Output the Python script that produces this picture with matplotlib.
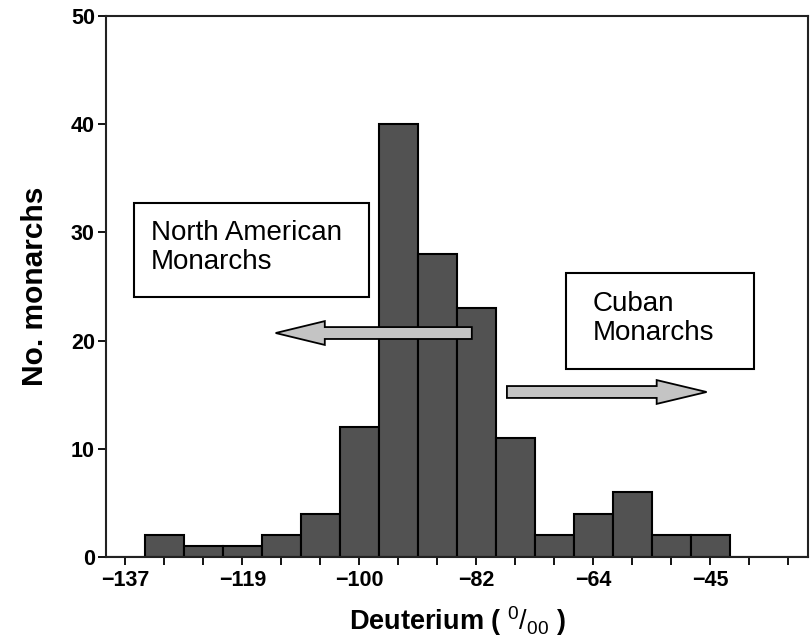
import matplotlib
matplotlib.use("Agg")
import matplotlib.pyplot as plt
from matplotlib.patches import Rectangle, FancyArrow

plt.rcParams['font.family'] = ['Liberation Sans', 'DejaVu Sans']
plt.rcParams['mathtext.fontset'] = 'custom'
plt.rcParams['mathtext.rm'] = 'Liberation Sans'
plt.rcParams['mathtext.it'] = 'Liberation Sans'
plt.rcParams['mathtext.bf'] = 'Liberation Sans:bold'
plt.rcParams['mathtext.default'] = 'rm'

# Bin positions (index of bin centre) and counts
bin_index = list(range(0, 18))
counts = [0, 2, 1, 1, 2, 4, 12, 40, 28, 23, 11, 2, 4, 6, 2, 2, 0, 0]
tick_labels = ['−137', '', '', '−119', '', '', '−100', '', '', '−82', '', '',
               '−64', '', '', '−45', '', '']
y_ticks = [0, 10, 20, 30, 40, 50]

fig = plt.figure(figsize=(8.12, 6.44), dpi=100)
ax = fig.add_axes([106/812, 1-557/644, 702/812, 541/644])

ax.bar(bin_index, counts, width=1.0, color='#525252', edgecolor='black',
       linewidth=1.5, zorder=2)

ax.set_xlim(-0.5, 17.5)
ax.set_ylim(0, 50)
ax.set_xticks(bin_index)
ax.set_xticklabels(tick_labels)
ax.set_yticks(y_ticks)
ax.tick_params(axis='both', direction='out', length=6, width=1.3, labelsize=15.5)
ax.tick_params(axis='x', pad=3)
ax.tick_params(axis='y', pad=2)
for lab in ax.get_xticklabels() + ax.get_yticklabels():
    lab.set_fontweight('bold')
for s in ax.spines.values():
    s.set_linewidth(1.5)
    s.set_color('#222222')

ax.set_ylabel('No. monarchs', fontsize=21.5, fontweight='bold', labelpad=16)
ax.set_xlabel(r'Deuterium ( $\mathrm{^{0}/_{00}}$ )', fontsize=19.5, fontweight='bold', labelpad=10)

# Text boxes
ax.add_patch(Rectangle((0.0399, 0.4806), 0.3348, 0.1738, transform=ax.transAxes,
                       facecolor='white', edgecolor='black', linewidth=1.5, zorder=3))
ax.text(0.0641, 0.4806 + 0.1738/2 + 0.004, 'North American\nMonarchs', transform=ax.transAxes,
        fontsize=20, ha='left', va='center', linespacing=1.15, zorder=4)
ax.add_patch(Rectangle((0.6553, 0.3475), 0.2678, 0.1774, transform=ax.transAxes,
                       facecolor='white', edgecolor='black', linewidth=1.5, zorder=3))
ax.text(0.6937, 0.3475 + 0.1774/2 + 0.004, 'Cuban\nMonarchs', transform=ax.transAxes,
        fontsize=20, ha='left', va='center', linespacing=1.15, zorder=4)

# Arrows
ax.add_patch(FancyArrow(8.88, 20.7, -(8.88-3.85), 0, width=1.1, head_width=2.2,
                        head_length=1.26, length_includes_head=True,
                        facecolor='#c4c4c4', edgecolor='black', linewidth=1.3, zorder=5))
ax.add_patch(FancyArrow(9.78, 15.25, 14.9-9.78, 0, width=1.1, head_width=2.2,
                        head_length=1.28, length_includes_head=True,
                        facecolor='#c4c4c4', edgecolor='black', linewidth=1.3, zorder=5))

fig.savefig('out.png', dpi=100, facecolor='white')
